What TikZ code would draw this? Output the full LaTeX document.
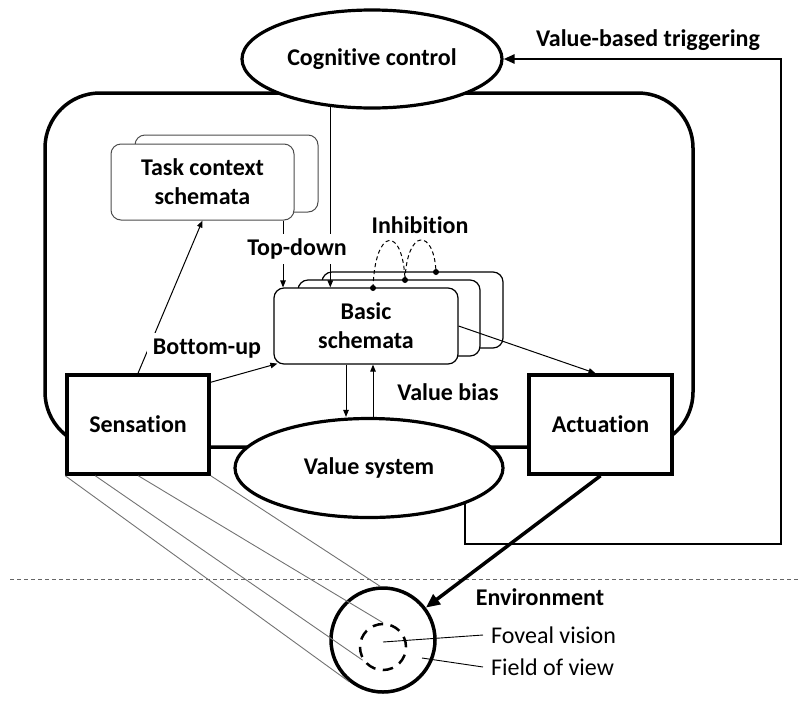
\documentclass[tikz,border=0pt]{standalone}
\usepackage{fontspec}
\setmainfont{Carlito}[Ligatures=NoCommon]
\usetikzlibrary{arrows.meta,shapes.geometric,calc}

\begin{document}
\begin{tikzpicture}[x=1pt,y=-1pt,
  txt/.style={font=\fontsize{24}{28}\selectfont},
  lbl/.style={txt, font=\fontsize{24}{28}\selectfont\bfseries, inner sep=2pt},
  note/.style={txt, inner ysep=0pt, inner xsep=8pt},
  heavybox/.style={draw, line width=3.5pt, fill=white, inner sep=0pt,
    minimum height=99pt, font=\fontsize{24}{28}\selectfont\bfseries},
  oval/.style={ellipse, draw, line width=3.2pt, fill=white, inner sep=0pt,
    font=\fontsize{24}{28}\selectfont\bfseries},
  schema/.style={draw, rounded corners=10pt, fill=white, inner sep=0pt,
    minimum height=76pt, align=center,
    font=\fontsize{24}{29}\selectfont\bfseries},
  taskbox/.style={schema, draw=black!70, line width=1pt},
  basicbox/.style={schema, line width=1.2pt},
  flow/.style={line width=1pt, -{Triangle[length=7pt,width=5.5pt]}},
  cone/.style={draw=black!55, line width=0.9pt},
  leader/.style={line width=0.9pt},
  inhib/.style={line width=1pt, dash pattern=on 4pt off 3pt},
  dot/.style={circle, fill, inner sep=0pt, minimum size=6pt}
]
\useasboundingbox (0,0) rectangle (799,702);

% outer frame shared by the processing modules
\draw[line width=3.5pt, rounded corners=55pt] (45,93) rectangle (693,447);

% boundary between agent and environment
\draw[black!60, line width=0.8pt, dash pattern=on 4pt off 3pt] (10,579) -- (799,579);

% main modules
\node[oval, minimum width=260pt, minimum height=98pt] (cc) at (372,59) {Cognitive control};
\node[oval, minimum width=268pt, minimum height=99pt] (vs) at (369,468) {Value system};
\node[heavybox, minimum width=142pt] (sen) at (138,424.5) {Sensation};
\node[heavybox, minimum width=143pt] (act) at (600.5,424.5) {Actuation};

% schema stacks
\node[taskbox, minimum width=183pt, minimum height=77pt] (tc2) at (226.5,173.5) {};
\node[taskbox, minimum width=183pt] (tc1) at (202.5,182) {Task context\\schemata};
\node[basicbox, minimum width=181pt] (bs3) at (412.5,310) {};
\node[basicbox, minimum width=182pt] (bs2) at (389,318) {};
\node[basicbox, minimum width=184pt] (bs1) at (366,326) {Basic\\schemata};

% top-down influences
\coordinate (tdx) at (283,0);
\draw[flow] (tc1.south -| tdx) -- (bs1.north -| tdx);
\draw[flow] (cc.229) -- (cc.229 |- bs1.north);
\node[lbl, fill=white, inner ysep=5pt] (td) at (297,249) {Top-down};

% bottom-up influence
\draw[flow] (sen.north) -- (tc1.south);
\node[lbl, fill=white, inner xsep=6pt, inner ysep=6pt] (bu) at (207,349) {Bottom-up};

% sensation to schemata, schemata to actuation
\draw[flow] ([yshift=-9pt]sen.north east) -- ([shift={(4,-1)}]bs1.south west);
\draw[flow] (bs1.east) -- ([xshift=-5pt]act.north);

% value bias loop
\coordinate (vdn) at (346,0);
\coordinate (vup) at (373,0);
\draw[flow] (bs1.south -| vdn) -- (vs.north -| vdn);
\draw[flow] (vs.north -| vup) -- (bs1.south -| vup);
\node[lbl] (vb) at (448,392) {Value bias};

% lateral inhibition between schemata
\coordinate (i1) at (373,288);
\coordinate (i2) at (405,280);
\coordinate (i3) at (436,272);
\draw[inhib] (i1) .. controls (375,226) and (403,226) .. (i2);
\draw[inhib] (i2) .. controls (407,228) and (434,228) .. (i3);
\node[dot] at (i1) {};
\node[dot] at (i2) {};
\node[dot] at (i3) {};
\node[lbl] (inh) at (420,225) {Inhibition};

% value-based triggering of cognitive control
\coordinate (lp) at (781,544);
\draw[line width=2.5pt, -{Triangle[length=11pt,width=9pt]}]
  (vs.south east) |- (lp) |- (cc.east);
\node[lbl] (vbt) at (648,40) {Value-based triggering};

% environment and field of view
\node[circle, draw, line width=3.5pt, minimum size=104pt, inner sep=0pt] (env) at (383,640) {};
\node[circle, draw, line width=2.5pt, dash pattern=on 10.5pt off 7.5pt,
  minimum size=46pt, inner sep=0pt] (dc) at (383,647) {};
\draw[cone] (sen.south west) -- (env.231);
\draw[cone] ([xshift=30pt]sen.south west) -- (dc.213);
\draw[cone] ([xshift=73pt]sen.south west) -- (dc.90);
\draw[cone] (sen.south east) -- (env.93);

\draw[line width=3.5pt, -{Triangle[length=14pt,width=12pt]}] (act.south) -- (env);

\node[lbl] (envl) at (540,597) {Environment};
\node[note, anchor=west] (fov) at (483,635) {Foveal vision};
\node[note, anchor=west] (fld) at (483,667) {Field of view};
\draw[leader] ([yshift=5pt]dc.center) -- (fov.west);
\draw[leader] ([shift={(39,18)}]env.center) -- (fld.west);
\end{tikzpicture}
\end{document}
